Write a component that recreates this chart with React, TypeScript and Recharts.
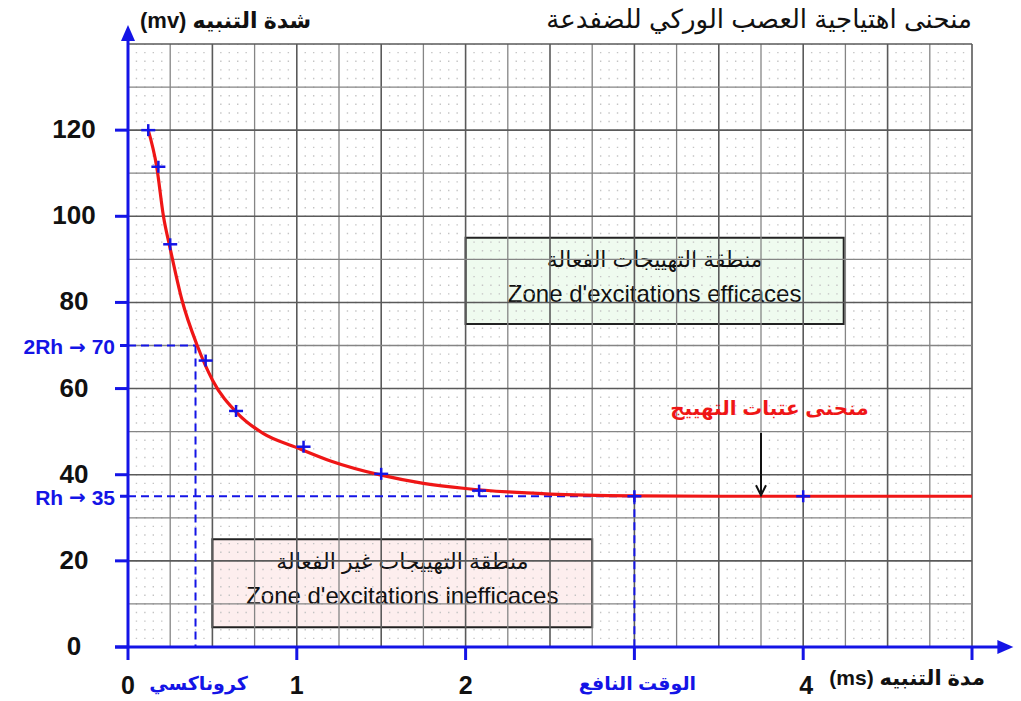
import React from 'react';
import {
  ComposedChart, Line, Scatter, XAxis, YAxis, ReferenceLine, ReferenceArea, ReferenceDot,
} from 'recharts';

// courbe d'excitabilité (durée en ms, intensité en mV)
const curveTimes = [0.12, 0.17, 0.21, 0.25, 0.32, 0.41, 0.5, 0.65, 0.8, 1.0, 1.2, 1.5, 1.75, 2.0, 2.25, 2.5, 3.0, 3.5, 4.0, 5.0];
const curveValues = [120, 111.5, 100, 92.5, 80.5, 70, 62, 54.2, 49.6, 46.3, 43.2, 39.9, 38, 36.8, 36, 35.5, 35.1, 35, 35, 35];

// points de mesure (croix bleues)
const measureTimes = [0.12, 0.18, 0.25, 0.46, 0.64, 1.04, 1.5, 2.08, 3, 4];
const measureValues = [120, 111.5, 93.5, 66.5, 54.8, 46.5, 40.2, 36.3, 35, 35];

const xTicks = [0, 0.4, 1, 2, 3, 4, 5];
const xTickLabels = ['0', 'كروناكسي', '1', '2', 'الوقت النافع', '4', ''];
const yTicks = [0, 20, 35, 40, 60, 70, 80, 100, 120];
const yTickLabels = ['0', '20', 'Rh → 35', '40', '60', '2Rh → 70', '80', '100', '120'];

const rheobase = 35;
const chronaxie = 0.4;
const usefulTime = 3;

const title = 'منحنى اهتياجية العصب الوركي للضفدعة';
const yTitle = '(mv) شدة التنبيه';
const xTitle = '(ms) مدة التنبيه';
const curveLabel = 'منحنى عتبات التهييج';
const goodZone = ['منطقة التهييجات الفعالة', "Zone d'excitations efficaces"];
const badZone = ['منطقة التهييجات غير الفعالة', "Zone d'excitations inefficaces"];

const BLUE = '#1414e6';
const RED = '#ef1616';
const FONT = "'Liberation Sans', Arial, 'DejaVu Sans', sans-serif";

const W = 1021;
const H = 701;

const curveData = curveTimes.map((t, i) => ({ t, v: curveValues[i] }));
const measureData = measureTimes.map((t, i) => ({ t, v: measureValues[i] }));

// grid values
const majorX = Array.from({ length: 21 }, (_, i) => i * 0.25);
const majorY = Array.from({ length: 15 }, (_, i) => i * 10);
const minorX = Array.from({ length: 101 }, (_, i) => +(i * 0.05).toFixed(2)).filter((v) => Math.abs(v * 4 - Math.round(v * 4)) > 1e-6);

const YTick = (props: any) => {
  const { x, y, payload } = props;
  const label = yTickLabels[yTicks.indexOf(payload.value)];
  const special = label.includes('Rh');
  if (special) {
    const [left, right] = label.split('→');
    return (
      <g>
        <line x1={x - 8} x2={x} y1={y} y2={y} stroke={BLUE} strokeWidth={3} />
        <text x={x - 13} y={y + 1} textAnchor="end" dominantBaseline="central" fill={BLUE}
          fontFamily={FONT} fontWeight="bold" fontSize={21}>
          {left}<tspan fontFamily="'DejaVu Sans', sans-serif" fontSize={20}>→</tspan>{right}
        </text>
      </g>
    );
  }
  return (
    <g>
      <line x1={x - 13} x2={x} y1={y} y2={y} stroke={BLUE} strokeWidth={3} />
      <text x={x - 54} y={y - 1} textAnchor="middle" dominantBaseline="central" fill="#111"
        fontFamily={FONT} fontWeight="bold" fontSize={26}>{label}</text>
    </g>
  );
};

const XTick = (props: any) => {
  const { x, y, payload } = props;
  const label = xTickLabels[xTicks.indexOf(payload.value)];
  const word = isNaN(Number(label));
  return (
    <g>
      {payload.value !== chronaxie && (
        <line x1={x} x2={x} y1={y} y2={y + 13} stroke={BLUE} strokeWidth={3} />
      )}
      {word ? (
        <text x={x + 3} y={y + 36} textAnchor="middle" dominantBaseline="central" fill={BLUE}
          fontFamily={FONT} fontWeight="bold" fontSize={19}>{label}</text>
      ) : (
        <text x={x + (payload.value === 4 ? 3 : 0)} y={y + 38} textAnchor="middle" dominantBaseline="central" fill="#111"
          fontFamily={FONT} fontWeight="bold" fontSize={25}>{label}</text>
      )}
    </g>
  );
};

const Cross = (props: any) => {
  const { cx, cy } = props;
  return (
    <g stroke={BLUE} strokeWidth={2.5}>
      <line x1={cx - 7} x2={cx + 7} y1={cy} y2={cy} />
      <line x1={cx} x2={cx} y1={cy - 6} y2={cy + 6} />
    </g>
  );
};

const boxLabel = (lines: string[]) => (props: any) => {
  const { x, y, width } = props.viewBox;
  const cx = x + width / 2;
  return (
    <g fontFamily={FONT} fill="#111" textAnchor="middle">
      <text x={cx} y={y + 22} dominantBaseline="central" fontSize={22}>{lines[0]}</text>
      <text x={cx} y={y + 56} dominantBaseline="central" fontSize={24}>{lines[1]}</text>
    </g>
  );
};

export default function App() {
  return (
    <div style={{ position: 'absolute', left: 0, top: 0, width: W, height: H, background: '#fff' }}>
      <style>{'body{margin:0}'}</style>
      <ComposedChart width={W} height={H} margin={{ top: 44, right: 49, left: 0, bottom: 0 }}>
        <XAxis dataKey="t" type="number" domain={[0, 5]} allowDataOverflow ticks={xTicks} interval={0}
          height={54} axisLine={false} tickLine={false} tickSize={0} tickMargin={0} tick={(p: any) => <XTick {...p} />} />
        <YAxis dataKey="v" type="number" domain={[0, 140]} allowDataOverflow ticks={yTicks} interval={0}
          width={128} axisLine={false} tickLine={false} tickSize={0} tickMargin={0} tick={(p: any) => <YTick {...p} />} />

        {/* minor dotted grid */}
        {minorX.map((v) => (
          <ReferenceLine key={'mx' + v} x={v} stroke="#c4c4c4" strokeWidth={1.4} strokeDasharray="1.4 7.214" strokeDashoffset={0.7} />
        ))}
        {/* major grid */}
        {majorX.map((v) => (
          <ReferenceLine key={'gx' + v} x={v} stroke={v % 0.5 === 0 ? '#5a5a5a' : '#858585'} strokeWidth={v % 0.5 === 0 ? 1.6 : 1.3} />
        ))}
        {majorY.map((v) => (
          <ReferenceLine key={'gy' + v} y={v} stroke={v % 20 === 0 ? '#5a5a5a' : '#858585'} strokeWidth={v % 20 === 0 ? 1.6 : 1.3} />
        ))}

        {/* zones */}
        <ReferenceArea x1={2} x2={4.24} y1={75} y2={95} fill="#effbef" fillOpacity={1} stroke="#222" strokeWidth={2}
          ifOverflow="visible" label={boxLabel(goodZone)} />
        <ReferenceArea x1={0.5} x2={2.75} y1={4.6} y2={25} fill="#fdeeee" fillOpacity={1} stroke="#222" strokeWidth={2}
          ifOverflow="visible" label={boxLabel(badZone)} />

        {/* rhéobase / chronaxie / temps utile */}
        <ReferenceLine segment={[{ x: 0, y: 2 * rheobase }, { x: chronaxie, y: 2 * rheobase }]} stroke={BLUE} strokeWidth={2} strokeDasharray="8 5" />
        <ReferenceLine segment={[{ x: chronaxie, y: 2 * rheobase }, { x: chronaxie, y: 0 }]} stroke={BLUE} strokeWidth={2} strokeDasharray="8 5" />
        <ReferenceLine segment={[{ x: 0, y: rheobase }, { x: usefulTime, y: rheobase }]} stroke={BLUE} strokeWidth={2} strokeDasharray="8 5" />
        <ReferenceLine segment={[{ x: usefulTime, y: rheobase }, { x: usefulTime, y: 0 }]} stroke={BLUE} strokeWidth={2} strokeDasharray="8 5" />

        <Line data={curveData} dataKey="v" type="monotone" stroke={RED} strokeWidth={3.2} dot={false} isAnimationActive={false} />
        <Scatter data={measureData} dataKey="v" shape={(p: any) => <Cross {...p} />} isAnimationActive={false} />

        {/* étiquette de la courbe + flèche */}
        <ReferenceDot x={3.8} y={55.5} r={0} ifOverflow="visible" shape={(p: any) => (
          <text x={p.cx} y={p.cy} textAnchor="middle" dominantBaseline="central" fill={RED}
            fontFamily={FONT} fontWeight="bold" fontSize={20}>{curveLabel}</text>
        )} />
        <ReferenceLine segment={[{ x: 3.75, y: 49.7 }, { x: 3.75, y: 35.4 }]} stroke="#111" strokeWidth={2} />
        <ReferenceDot x={3.75} y={rheobase} r={0} ifOverflow="visible" shape={(p: any) => (
          <polyline points={`${p.cx - 5},${p.cy - 11} ${p.cx},${p.cy - 1} ${p.cx + 5},${p.cy - 11}`} fill="none" stroke="#111" strokeWidth={2} />
        )} />

        {/* axes with arrows */}
        <ReferenceLine segment={[{ x: -0.077, y: 0 }, { x: 5.17, y: 0 }]} stroke={BLUE} strokeWidth={3} ifOverflow="visible" />
        <ReferenceLine segment={[{ x: 0, y: 0 }, { x: 0, y: 141 }]} stroke={BLUE} strokeWidth={3} ifOverflow="visible" />
        <ReferenceDot x={5.245} y={0} r={0} ifOverflow="visible" shape={(p: any) => (
          <polygon points={`${p.cx},${p.cy} ${p.cx - 16},${p.cy - 7} ${p.cx - 16},${p.cy + 7}`} fill={BLUE} />
        )} />
        <ReferenceDot x={0} y={144.4} r={0} ifOverflow="visible" shape={(p: any) => (
          <polygon points={`${p.cx},${p.cy} ${p.cx - 7},${p.cy + 16} ${p.cx + 7},${p.cy + 16}`} fill={BLUE} />
        )} />

        {/* titres */}
        <text x={972} y={19} textAnchor="end" dominantBaseline="central" fontFamily={FONT} fontSize={26} fill="#111">{title}</text>
        <text x={140} y={20} textAnchor="start" dominantBaseline="central" fontFamily={FONT} fontWeight="bold" fontSize={22} fill="#111">{yTitle}</text>
        <text x={985} y={677} textAnchor="end" dominantBaseline="central" fontFamily={FONT} fontWeight="bold" fontSize={21} fill="#111">{xTitle}</text>
      </ComposedChart>
    </div>
  );
}
